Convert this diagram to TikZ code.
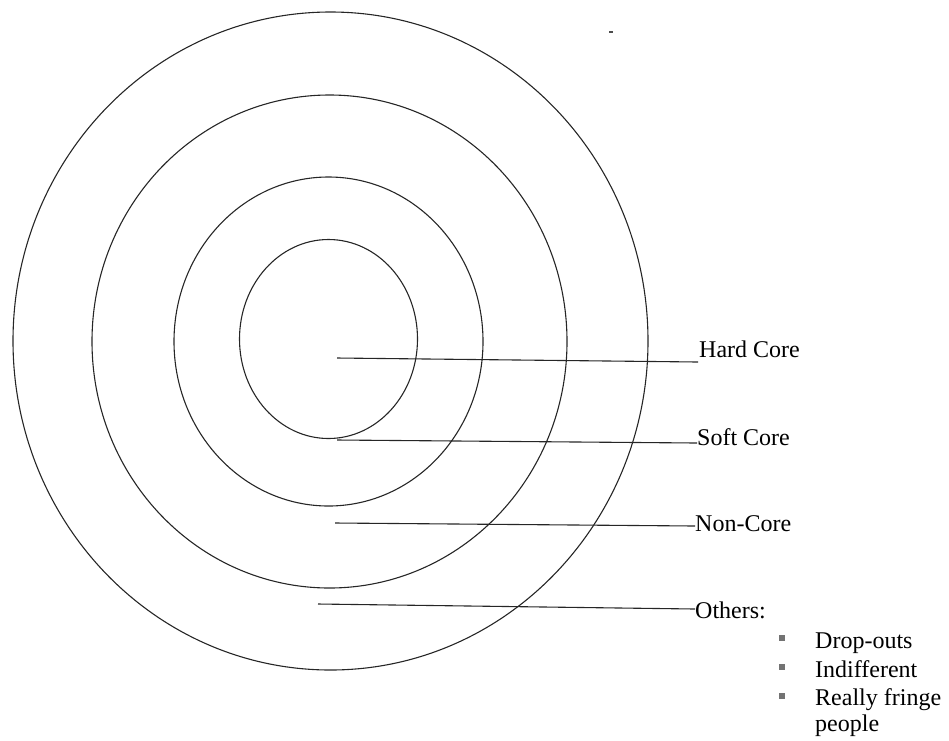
\documentclass[tikz,border=0pt]{standalone}
\usepackage{fontspec}
\setmainfont{Liberation Serif}
\begin{document}
\begin{tikzpicture}[x=1pt,y=-1pt,
  ring/.style={line width=1.1pt,black!85},
  leader/.style={line width=1.1pt,black!85},
  lbl/.style={anchor=base west,inner sep=0pt,font=\fontsize{24}{28}\selectfont},
  sq/.style={draw=none,fill=black!55,minimum size=6.5pt,inner sep=0pt}]
\useasboundingbox (0,0) rectangle (949,740);
% rings
\draw[ring] (330.5,341) ellipse [x radius=317.5, y radius=329];
\draw[ring] (329.5,341.5) ellipse [x radius=237.5, y radius=246.5];
\draw[ring] (328.5,341.5) ellipse [x radius=154.5, y radius=164.5];
\draw[ring] (328.5,339) ellipse [x radius=89, y radius=99.5];
% labels
\node[lbl] (hard) at (699,357) {Hard Core};
\node[lbl] (soft) at (697,445) {Soft Core};
\node[lbl] (non) at (695,531) {Non-Core};
\node[lbl] (oth) at (695,618) {Others:};
\node[lbl] (b1) at (815,648) {Drop-outs};
\node[lbl] (b2) at (815,677) {Indifferent};
\node[lbl] (b3) at (815,705) {Really fringe};
\node[lbl] (b4) at (815,731) {people};
\node[sq] (s1) at (782,638) {};
\node[sq] (s2) at (782,667) {};
\node[sq] (s3) at (782,696) {};
% leader lines
\coordinate (hS) at (337,358); \coordinate (hE) at (698,362);
\coordinate (sS) at (337,440); \coordinate (sE) at (697,443);
\coordinate (nS) at (335,523); \coordinate (nE) at (695,526);
\coordinate (oS) at (318,604); \coordinate (oE) at (695,609);
\draw[leader] (hS) -- (hE);
\draw[leader] (sS) -- (sE);
\draw[leader] (nS) -- (nE);
\draw[leader] (oS) -- (oE);
% stray mark
\coordinate (m1) at (609,32); \coordinate (m2) at (613,32);
\draw[line width=1.6pt,black!70] (m1) -- (m2);
\end{tikzpicture}
\end{document}
